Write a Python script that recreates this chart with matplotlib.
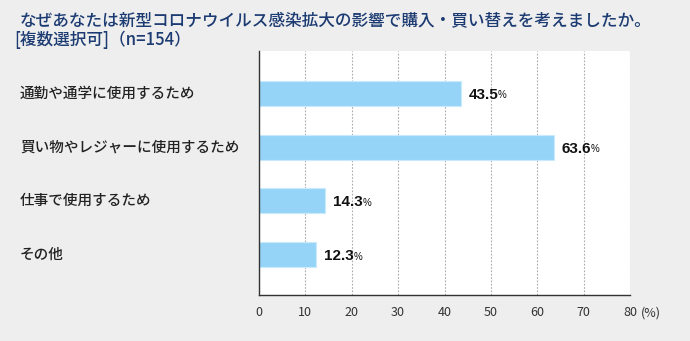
import matplotlib
matplotlib.use('Agg')
import matplotlib.pyplot as plt
import matplotlib.transforms as mtrans

plt.rcParams['font.family'] = ['Noto Sans CJK JP', 'DejaVu Sans']

categories = ['通勤や通学に使用するため', '買い物やレジャーに使用するため',
              '仕事で使用するため', 'その他']
values = [43.5, 63.6, 14.3, 12.3]
xticks = [0, 10, 20, 30, 40, 50, 60, 70, 80]
title1 = 'なぜあなたは新型コロナウイルス感染拡大の影響で購入・買い替えを考えましたか。'
title2 = '[複数選択可]（n=154）'

fig = plt.figure(figsize=(6.9, 3.41), dpi=100)
fig.patch.set_facecolor('#eeeeee')
ax = fig.add_axes([259 / 690, 1 - 295 / 341, 371 / 690, 244 / 341])
ax.set_facecolor('white')

pos = list(range(len(categories)))
ax.barh(pos, values, height=0.465, color='#96d4f7', edgecolor='#c9eafc', linewidth=0.8, zorder=3)

ax.set_xlim(0, 80)
ax.set_ylim(3.75, -0.79)
ax.set_xticks(xticks)
ax.set_xticklabels([str(v) for v in xticks], fontsize=9, color='#333333')
ax.tick_params(axis='x', length=0, pad=8)
ax.set_yticks([])
ax.grid(axis='x', color='#aaaaaa', linestyle=(0, (1.5, 1.5)), linewidth=0.8, zorder=1)
for s in ['top', 'right']:
    ax.spines[s].set_visible(False)
for s in ['left', 'bottom']:
    ax.spines[s].set_color('#333333')
    ax.spines[s].set_linewidth(1.0)
    ax.spines[s].set_zorder(4)

# "(%)" after the last tick label
ax.annotate('(%)', xy=(80, 0), xycoords=('data', 'axes fraction'),
            xytext=(8, -8), textcoords='offset points', fontsize=9, color='#333333',
            ha='left', va='top')

# category labels on the left
tr = mtrans.blended_transform_factory(fig.transFigure, ax.transData)
for p, c in zip(pos, categories):
    ax.text(20 / 690, p, c, transform=tr, fontsize=10.5, fontweight='medium',
            color='#222222', ha='left', va='center')

# value labels
for p, v in zip(pos, values):
    t = ax.annotate(f'{v:.1f}', xy=(v, p), xytext=(5.5, 0), textcoords='offset points',
                    fontsize=11, fontweight='bold', family='Liberation Sans',
                    color='#111111', ha='left', va='center_baseline')
    ax.annotate('%', xy=(1, 0.12), xycoords=t, fontsize=7, family='Liberation Sans',
                color='#111111', ha='left', va='bottom')

fig.text(20 / 690, 1 - 20 / 341, title1, fontsize=12, fontweight='medium',
         color='#1c3b72', ha='left', va='center')
fig.text(14 / 690, 1 - 40 / 341, title2, fontsize=12, fontweight='medium',
         color='#1c3b72', ha='left', va='center')

fig.savefig('out.png', dpi=100, facecolor=fig.get_facecolor())
